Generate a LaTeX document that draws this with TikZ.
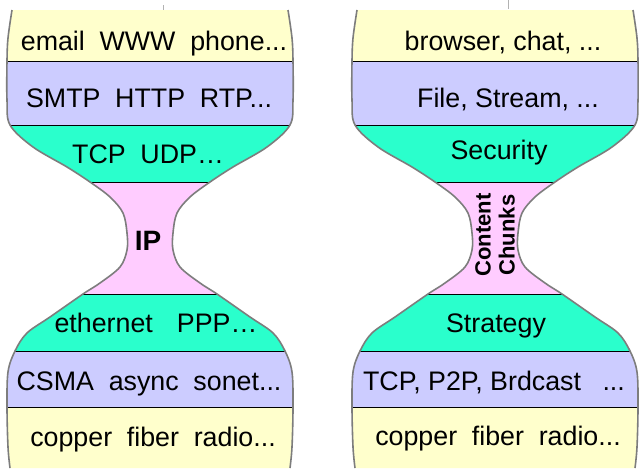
\documentclass[tikz,border=0pt]{standalone}
\usepackage{fontspec}
\setmainfont{Liberation Sans}
\definecolor{cyel}{HTML}{FFFFCC}
\definecolor{clav}{HTML}{CCCCFF}
\definecolor{cgrn}{RGB}{42,255,204}
\definecolor{cpink}{HTML}{FFCCFF}
\definecolor{coutl}{RGB}{125,125,125}
\newcommand\gap{\hspace{0.55em}}
\tikzset{
  lbl/.style={font=\fontsize{26.8}{30}\selectfont, anchor=base, inner sep=0pt},
  boldlbl/.style={font=\fontsize{28}{30}\selectfont\bfseries, anchor=base, inner sep=0pt},
  outl/.style={draw=coutl, line width=1.6pt},
  sep/.style={draw=black, line width=0.9pt},
  hourglass/.pic={
    \begin{scope}
      \clip plot[smooth,tension=0.55] coordinates {(-138,10) (-142,38) (-143,61) (-143,100) (-140,125) (-117,147) (-83,167) (-60,182) (-40,197) (-27,213) (-23,233) (-23,250) (-30,267) (-50,283) (-67,294) (-100,317) (-123,333) (-135,351) (-142,372) (-143,407) (-142,447) (-140,468)}
        -- plot[smooth,tension=0.55] coordinates {(140,468) (142,447) (143,407) (142,372) (135,351) (123,333) (100,317) (67,294) (50,283) (30,267) (23,250) (23,233) (27,213) (40,197) (60,182) (83,167) (117,147) (140,125) (143,100) (143,61) (142,38) (138,10)} -- cycle;
      \fill[cyel] (-160,0) rectangle (160,61);
      \fill[clav] (-160,61) rectangle (160,125);
      \fill[cgrn] (-160,125) rectangle (160,182);
      \fill[cpink] (-160,182) rectangle (160,294);
      \fill[cgrn] (-160,294) rectangle (160,351);
      \fill[clav] (-160,351) rectangle (160,407);
      \fill[cyel] (-160,407) rectangle (160,480);
      \foreach \yy in {61,125,182,294,351,407} \draw[sep] (-160,\yy) -- (160,\yy);
    \end{scope}
    \draw[outl] plot[smooth,tension=0.55] coordinates {(-138,10) (-142,38) (-143,61) (-143,100) (-140,125) (-117,147) (-83,167) (-60,182) (-40,197) (-27,213) (-23,233) (-23,250) (-30,267) (-50,283) (-67,294) (-100,317) (-123,333) (-135,351) (-142,372) (-143,407) (-142,447) (-140,468)};
    \draw[outl] plot[smooth,tension=0.55] coordinates {(140,468) (142,447) (143,407) (142,372) (135,351) (123,333) (100,317) (67,294) (50,283) (30,267) (23,250) (23,233) (27,213) (40,197) (60,182) (83,167) (117,147) (140,125) (143,100) (143,61) (142,38) (138,10)};
  }
}
\begin{document}
\begin{tikzpicture}[x=1pt,y=-1pt]
  \useasboundingbox (0,0) rectangle (639,471);
  \fill[white] (0,0) rectangle (639,471);
  \pic (hgL) at (150,0) {hourglass};
  \pic (hgR) at (495,0) {hourglass};
  \draw[gray!60, line width=0.6pt] (163,5) -- (163,10);
  \draw[gray!60, line width=0.6pt] (508,0) -- (508,9);
  % left stack
  \node[lbl] (L1) at (154,50) {email\gap WWW\gap phone...};
  \node[lbl] (L2) at (149,107) {SMTP\gap HTTP\gap RTP...};
  \node[lbl] (L3) at (148,163) {TCP\gap UDP…};
  \node[boldlbl] (L4) at (148,250) {IP};
  \node[lbl] (L5) at (156,332) {ethernet\hspace{0.9em}PPP…};
  \node[lbl] (L6) at (149,390) {CSMA\gap async\gap sonet...};
  \node[lbl] (L7) at (153,446) {copper\gap fiber\gap radio...};
  % right stack
  \node[lbl] (R1) at (503,50) {browser, chat, ...};
  \node[lbl] (R2) at (508,107) {File, Stream, ...};
  \node[lbl] (R3) at (499,159) {Security};
  \node[font=\fontsize{22}{24}\selectfont\bfseries, rotate=90, align=center, inner sep=0pt] (R4) at (495,235) {Content\\Chunks};
  \node[lbl] (R5) at (496,332) {Strategy};
  \node[lbl] (R6) at (494,390) {TCP, P2P, Brdcast\hspace{0.8em}...};
  \node[lbl] (R7) at (498,445) {copper\gap fiber\gap radio...};
\end{tikzpicture}
\end{document}
